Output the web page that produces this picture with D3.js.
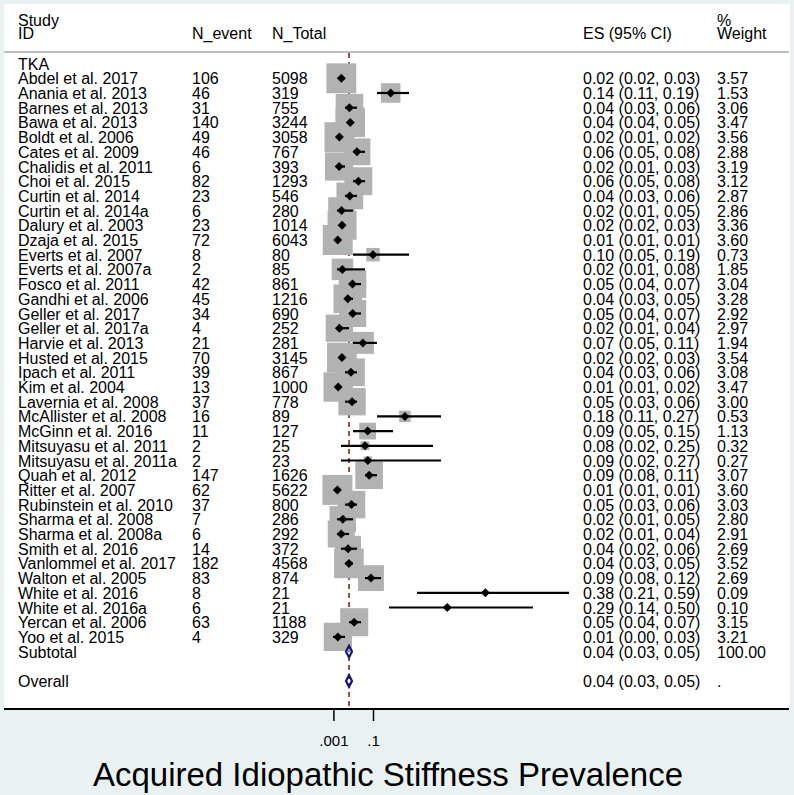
<!DOCTYPE html>
<html>
<head>
<meta charset="utf-8">
<script src="https://cdn.jsdelivr.net/npm/d3@7"></script>
<style>
html,body{margin:0;padding:0;background:#eaf1f3;}
svg{display:block;}
text{font-family:Arial,"Liberation Sans",Helvetica,sans-serif;fill:#000;}
</style>
</head>
<body>
<svg id="chart" width="794" height="795"></svg>
<script>
const groupLabel = "TKA";
const studies = ["Abdel et al. 2017","Anania et al. 2013","Barnes et al. 2013","Bawa et al. 2013","Boldt et al. 2006","Cates et al. 2009","Chalidis et al. 2011","Choi et al. 2015","Curtin et al. 2014","Curtin et al. 2014a","Dalury et al. 2003","Dzaja et al. 2015","Everts et al. 2007","Everts et al. 2007a","Fosco et al. 2011","Gandhi et al. 2006","Geller et al. 2017","Geller et al. 2017a","Harvie et al. 2013","Husted et al. 2015","Ipach et al. 2011","Kim et al. 2004","Lavernia et al. 2008","McAllister et al. 2008","McGinn et al. 2016","Mitsuyasu et al. 2011","Mitsuyasu et al. 2011a","Quah et al. 2012","Ritter et al. 2007","Rubinstein et al. 2010","Sharma et al. 2008","Sharma et al. 2008a","Smith et al. 2016","Vanlommel et al. 2017","Walton et al. 2005","White et al. 2016","White et al. 2016a","Yercan et al. 2006","Yoo et al. 2015"];
const nEvent = [106,46,31,140,49,46,6,82,23,6,23,72,8,2,42,45,34,4,21,70,39,13,37,16,11,2,2,147,62,37,7,6,14,182,83,8,6,63,4];
const nTotal = [5098,319,755,3244,3058,767,393,1293,546,280,1014,6043,80,85,861,1216,690,252,281,3145,867,1000,778,89,127,25,23,1626,5622,800,286,292,372,4568,874,21,21,1188,329];
const es = [0.0208,0.1442,0.0411,0.0432,0.0160,0.0600,0.0153,0.0634,0.0421,0.0214,0.0227,0.0119,0.1000,0.0235,0.0488,0.0370,0.0493,0.0159,0.0747,0.0223,0.0449,0.0130,0.0476,0.1798,0.0866,0.0800,0.0870,0.0904,0.0110,0.0463,0.0245,0.0205,0.0376,0.0398,0.0949,0.3810,0.2857,0.0530,0.0122];
const ciLow = [0.02,0.11,0.03,0.04,0.01,0.05,0.01,0.05,0.03,0.01,0.02,0.01,0.05,0.01,0.04,0.03,0.04,0.01,0.05,0.02,0.03,0.01,0.03,0.11,0.05,0.02,0.02,0.08,0.01,0.03,0.01,0.01,0.02,0.03,0.08,0.21,0.14,0.04,0.00];
const ciHigh = [0.03,0.19,0.06,0.05,0.02,0.08,0.03,0.08,0.06,0.05,0.03,0.01,0.19,0.08,0.07,0.05,0.07,0.04,0.11,0.03,0.06,0.02,0.06,0.27,0.15,0.25,0.27,0.11,0.01,0.06,0.05,0.04,0.06,0.05,0.12,0.59,0.50,0.07,0.03];
const weight = [3.57,1.53,3.06,3.47,3.56,2.88,3.19,3.12,2.87,2.86,3.36,3.60,0.73,1.85,3.04,3.28,2.92,2.97,1.94,3.54,3.08,3.47,3.00,0.53,1.13,0.32,0.27,3.07,3.60,3.03,2.80,2.91,2.69,3.52,2.69,0.09,0.10,3.15,3.21];
const summaryLabels = ["Subtotal","Overall"];
const summaryEs = [0.04,0.04];
const summaryLow = [0.03,0.03];
const summaryHigh = [0.05,0.05];
const summaryWeight = ["100.00","."];
const tickValues = [0.001,0.1];
const tickLabels = [".001",".1"];
const headers = {id:["Study","ID"], nEvent:"N_event", nTotal:"N_Total", es:"ES (95% CI)", weight:["%","Weight"]};
const title = "Acquired Idiopathic Stiffness Prevalence";

const svg = d3.select("#chart");
const W = 794, H = 795;
const f2 = d3.format(".2f");

// layout
const plotL = 4, plotR = 790, plotT = 4, axisY = 709;
const colId = 18, colEv = 192, colTot = 272, colEs = 583, colW = 717;

const x = d3.scaleLinear().domain([0, 1]).range([333, 733]);
const y = d3.scaleLinear().domain([0, 42]).range([63.6, 63.6 + 42 * 14.7]);

svg.append("rect").attr("width", W).attr("height", H).attr("fill", "#eaf1f3");
svg.append("rect").attr("x", plotL).attr("y", plotT).attr("width", plotR - plotL).attr("height", axisY - plotT).attr("fill", "#ffffff");

// header
const hdr = svg.append("g").style("font-size", "16px");
hdr.append("text").attr("x", colId).attr("y", 25.5).text(headers.id[0]);
hdr.append("text").attr("x", colId).attr("y", 39).text(headers.id[1]);
hdr.append("text").attr("x", colEv).attr("y", 39).text(headers.nEvent);
hdr.append("text").attr("x", colTot).attr("y", 39).text(headers.nTotal);
hdr.append("text").attr("x", colEs).attr("y", 39).text(headers.es);
hdr.append("text").attr("x", colW).attr("y", 25.5).text(headers.weight[0]);
hdr.append("text").attr("x", colW).attr("y", 39).text(headers.weight[1]);
svg.append("line").attr("x1", plotL).attr("x2", plotR - 1).attr("y1", 52).attr("y2", 52)
  .attr("stroke", "#a8a8a8").attr("stroke-width", 1.5);

// reference dashed line (overall ES)
svg.append("line").attr("x1", x(summaryEs[1])).attr("x2", x(summaryEs[1]))
  .attr("y1", 53).attr("y2", axisY)
  .attr("stroke", "#8b1f24").attr("stroke-width", 1.6).attr("stroke-dasharray", "5,4");

const rows = studies.map((s, i) => ({name: s, ev: nEvent[i], tot: nTotal[i], es: es[i], lo: ciLow[i], hi: ciHigh[i], w: weight[i], r: i + 1}));

// weight squares
svg.append("g").selectAll("rect").data(rows).join("rect")
  .attr("x", d => x(d.es) - 15.8 * Math.sqrt(d.w) / 2)
  .attr("y", d => y(d.r) - 15.8 * Math.sqrt(d.w) / 2)
  .attr("width", d => 15.8 * Math.sqrt(d.w))
  .attr("height", d => 15.8 * Math.sqrt(d.w))
  .attr("fill", "#b2b2b2");

// CI lines
svg.append("g").selectAll("line").data(rows).join("line")
  .attr("x1", d => x(d.lo)).attr("x2", d => x(d.hi))
  .attr("y1", d => y(d.r)).attr("y2", d => y(d.r))
  .attr("stroke", "#000").attr("stroke-width", 2.2);

// point diamonds
const dh = 4.5;
svg.append("g").selectAll("path").data(rows).join("path")
  .attr("d", d => { const cx = x(d.es), cy = y(d.r); return `M${cx - dh},${cy}L${cx},${cy - dh}L${cx + dh},${cy}L${cx},${cy + dh}Z`; })
  .attr("fill", "#000");

// summary diamonds
const sumRows = summaryLabels.map((s, i) => ({name: s, es: summaryEs[i], lo: summaryLow[i], hi: summaryHigh[i], w: summaryWeight[i], r: i === 0 ? 40 : 42}));
svg.append("g").selectAll("path").data(sumRows).join("path")
  .attr("d", d => { const cy = y(d.r), h = 5.8; return `M${x(d.lo) + 1},${cy}L${x(d.es)},${cy - h}L${x(d.hi) - 1},${cy}L${x(d.es)},${cy + h}Z`; })
  .attr("fill", "none").attr("stroke", "#15157a").attr("stroke-width", 2.2);

// text rows
const tg = svg.append("g").style("font-size", "16px");
tg.append("text").attr("x", colId).attr("y", y(0) + 6).text(groupLabel);
const rt = tg.selectAll("g.row").data(rows).join("g").attr("class", "row");
rt.append("text").attr("x", colId).attr("y", d => y(d.r) + 6).text(d => d.name);
rt.append("text").attr("x", colEv).attr("y", d => y(d.r) + 6).text(d => d.ev);
rt.append("text").attr("x", colTot).attr("y", d => y(d.r) + 6).text(d => d.tot);
rt.append("text").attr("x", colEs).attr("y", d => y(d.r) + 6).text(d => `${f2(d.es)} (${f2(d.lo)}, ${f2(d.hi)})`);
rt.append("text").attr("x", colW).attr("y", d => y(d.r) + 6).text(d => f2(d.w));
const st = tg.selectAll("g.sum").data(sumRows).join("g").attr("class", "sum");
st.append("text").attr("x", colId).attr("y", d => y(d.r) + 6).text(d => d.name);
st.append("text").attr("x", colEs).attr("y", d => y(d.r) + 6).text(d => `${f2(d.es)} (${f2(d.lo)}, ${f2(d.hi)})`);
st.append("text").attr("x", colW).attr("y", d => y(d.r) + 6).text(d => d.w);

// axis
svg.append("line").attr("x1", plotL).attr("x2", plotR - 1).attr("y1", axisY).attr("y2", axisY)
  .attr("stroke", "#000").attr("stroke-width", 2);
const ax = svg.append("g").attr("transform", `translate(0,${axisY})`)
  .call(d3.axisBottom(x).tickValues(tickValues).tickFormat((d, i) => tickLabels[i]).tickSize(12).tickPadding(14).tickSizeOuter(0));
ax.select(".domain").remove();
ax.selectAll(".tick line").attr("stroke", "#000").attr("stroke-width", 1.5);
ax.selectAll(".tick text").attr("font-family", null).style("font-size", "15px").attr("fill", "#000");

// title
svg.append("text").attr("x", 388).attr("y", 786).attr("text-anchor", "middle")
  .style("font-size", "33px").text(title);
</script>
</body>
</html>
